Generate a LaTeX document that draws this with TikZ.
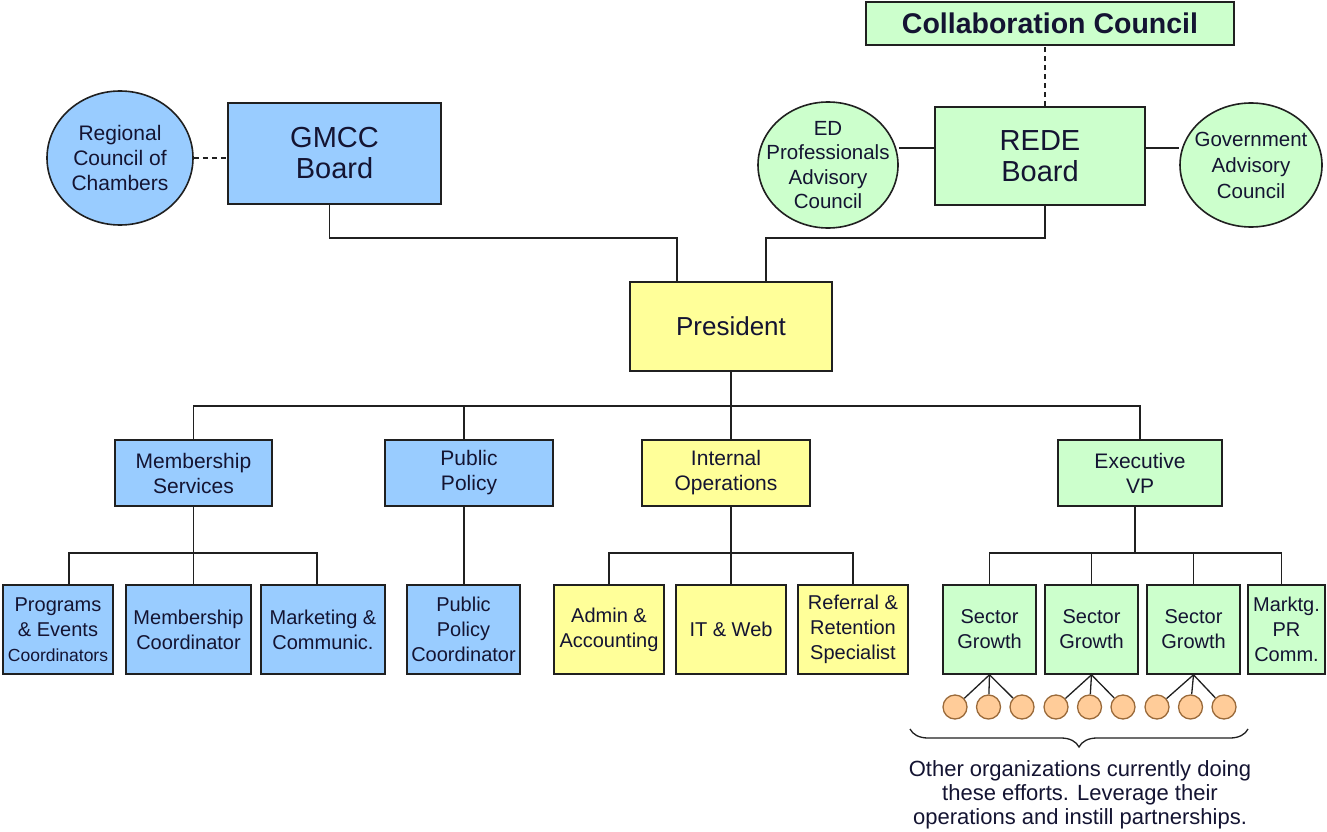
\documentclass[tikz,border=0pt]{standalone}
\usepackage{fontspec}
\setmainfont{Liberation Sans}
\usetikzlibrary{shapes.geometric,decorations.pathreplacing,backgrounds}
\definecolor{bfill}{HTML}{99CCFF}
\definecolor{yfill}{HTML}{FFFF99}
\definecolor{gfill}{HTML}{CCFFCC}
\definecolor{ofill}{HTML}{FFCC99}
\definecolor{oline}{HTML}{9A6A3A}
\definecolor{lnc}{HTML}{202020}
\definecolor{txc}{HTML}{141432}
\newcommand{\fsz}[2]{\fontsize{#1}{#2}\selectfont}
\begin{document}
\begin{tikzpicture}[x=1pt,y=-1pt,
  base/.style={draw=lnc, line width=1.6pt, align=center, inner sep=0pt, text=txc, font=\fsz{21}{25}},
  bx/.style 2 args={base, rectangle, minimum width=#1pt, minimum height=#2pt},
  ell/.style 2 args={base, ellipse, minimum width=#1pt, minimum height=#2pt},
  lbl/.style={align=center, inner sep=0pt, text=txc, font=\fsz{21}{25}},
  small/.style={font=\fsz{20}{25}},
  conn/.style={draw=lnc, line width=1.6pt},
  dconn/.style={conn, dashed, dash pattern=on 5pt off 4pt},
  orgc/.style={circle, draw=oline, fill=ofill, line width=1.3pt, minimum size=24pt, inner sep=0pt}
]
\useasboundingbox (0,0) rectangle (1327,832);

% top level
\node[bx={368}{43}, fill=gfill, font=\fsz{28.5}{30}\bfseries] (collab) at (1050,23.5) {Collaboration Council};
\node[ell={146}{134}, fill=bfill] (rcc) at (120,158) {};
\node[lbl] (rcct) at (rcc) {Regional\\Council of\\Chambers};
\node[bx={213}{101}, fill=bfill, font=\fsz{29}{31}] (gmcc) at (334.5,153.5) {GMCC\\Board};
\node[ell={140}{126}, fill=gfill] (ed) at (828,165) {};
\node[lbl, font=\fsz{20.5}{24.5}] (edt) at (ed) {ED\\Professionals\\Advisory\\Council};
\node[bx={210}{98}, fill=gfill, font=\fsz{29}{31}] (rede) at (1040,156) {REDE\\Board};
\node[ell={142}{124}, fill=gfill] (gov) at (1251,165) {};
\node[lbl, font=\fsz{20.5}{26}] (govt) at (gov) {Government\\Advisory\\Council};
\node[bx={202}{89}, fill=yfill, font=\fsz{26}{30}] (pres) at (731,326.5) {President};

% level 2
\node[bx={157}{66}, fill=bfill] (ms) at (193.5,473) {Membership\\Services};
\node[bx={168}{66}, fill=bfill] (pp) at (469,473) {Public\\Policy};
\node[bx={168}{66}, fill=yfill] (io) at (726,473) {Internal\\Operations};
\node[bx={164}{66}, fill=gfill] (evp) at (1140,473) {Executive\\VP};

% level 3
\node[bx={110}{89}, fill=bfill, small] (pe) at (58,629.5) {Programs\\\& Events\\{\fsz{17.5}{25}Coordinators}};
\node[bx={125}{89}, fill=bfill, small] (mc) at (188.5,629.5) {Membership\\Coordinator};
\node[bx={124}{89}, fill=bfill, small] (mk) at (323,629.5) {Marketing \&\\Communic.};
\node[bx={113}{89}, fill=bfill, small] (ppc) at (463.5,629.5) {Public\\Policy\\Coordinator};
\node[bx={110}{89}, fill=yfill, small] (aa) at (609,629.5) {Admin \&\\Accounting};
\node[bx={110}{89}, fill=yfill, small] (it) at (731,629.5) {IT \& Web};
\node[bx={110}{89}, fill=yfill, small] (rr) at (853,629.5) {Referral \&\\Retention\\Specialist};
\node[bx={93}{89}, fill=gfill, small] (sg1) at (989.5,629.5) {Sector\\Growth};
\node[bx={93}{89}, fill=gfill, small] (sg2) at (1091.5,629.5) {Sector\\Growth};
\node[bx={93}{89}, fill=gfill, small] (sg3) at (1193.5,629.5) {Sector\\Growth};
\node[bx={77}{89}, fill=gfill, small] (mpr) at (1286.5,629.5) {Marktg.\\PR\\Comm.};

% other organizations
\foreach \i/\xx in {1/955,2/988.5,3/1022,4/1056,5/1089.5,6/1123,7/1157,8/1190.5,9/1224}
  \node[orgc] (c\i) at (\xx,707) {};

\coordinate (br1) at (910,729);
\coordinate (br2) at (1248,729);
\draw[lnc, line width=1.3pt, decorate, decoration={brace, amplitude=18pt, aspect=0.5, mirror}] (br1) -- (br2);
\node[lbl, font=\fsz{22}{24}] (note) at (1080,795) {Other organizations currently doing\\these efforts. Leverage their\\operations and instill partnerships.};

\begin{pgfonlayer}{background}
\fill[white] (0,0) rectangle (1327,832);
\draw[dconn] (rcc.east) -- (rcc.east -| gmcc.west);
\draw[conn] ([yshift=8pt]rede.west) -- ([yshift=8pt]rede.west -| ed.east);
\draw[conn] ([yshift=8pt]rede.east) -- ([yshift=8pt]rede.east -| gov.west);
\draw[dconn] ([xshift=5pt]rede.north) -- ([xshift=5pt]rede.north |- collab.south);
\draw[conn] ([xshift=-5pt]gmcc.south) -- ++(0,33) -| ([xshift=-54pt]pres.north);
\draw[conn] ([xshift=5pt]rede.south) -- ++(0,32) -| ([xshift=35pt]pres.north);
\foreach \t/\s in {ms/0,pp/-5,io/5,evp/0}
  \draw[conn] (pres.south) -- ++(0,34) -| ([xshift=\s pt]\t.north);
\foreach \t/\s in {pe/11,mc/5,mk/-6}
  \draw[conn] (ms.south) -- ++(0,46) -| ([xshift=\s pt]\t.north);
\draw[conn] ([xshift=-5pt]pp.south) -- ([xshift=-5pt]pp.south |- ppc.north);
\foreach \t in {aa,it,rr}
  \draw[conn] ([xshift=5pt]io.south) -- ++(0,46) -| (\t.north);
\foreach \t/\s in {sg1/0,sg2/0,sg3/0,mpr/-5}
  \draw[conn] ([xshift=-5pt]evp.south) -- ++(0,46) -| ([xshift=\s pt]\t.north);
\foreach \s/\a/\b/\c in {sg1/c1/c2/c3,sg2/c4/c5/c6,sg3/c7/c8/c9}{
  \draw[conn, line width=1.3pt] (\s.south) -- (\a);
  \draw[conn, line width=1.3pt] (\s.south) -- (\b);
  \draw[conn, line width=1.3pt] (\s.south) -- (\c);
}
\end{pgfonlayer}
\end{tikzpicture}
\end{document}
